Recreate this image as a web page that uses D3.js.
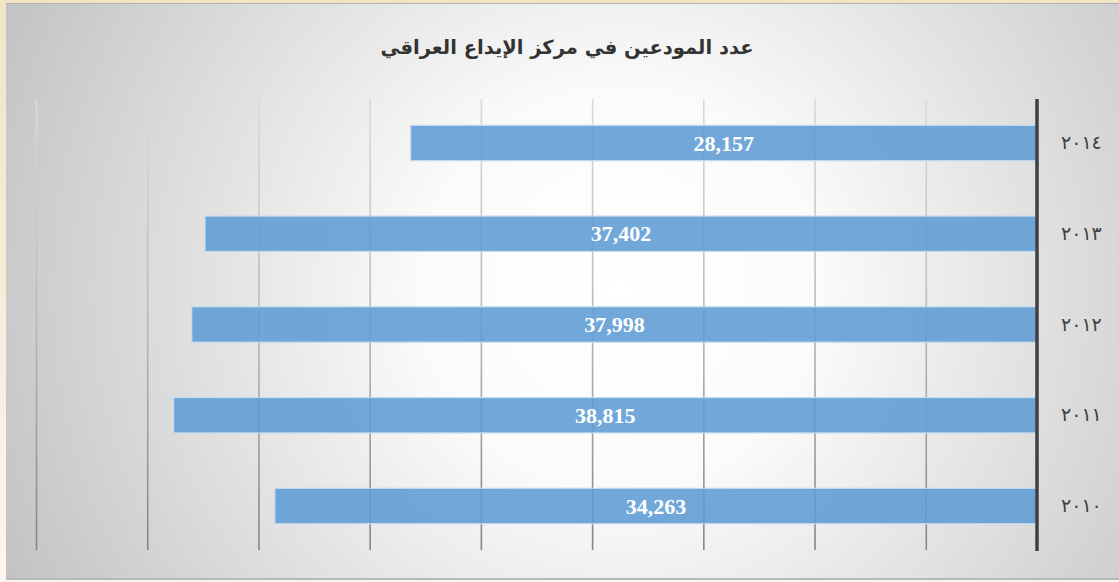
<!DOCTYPE html>
<html>
<head>
<meta charset="utf-8">
<script src="https://cdn.jsdelivr.net/npm/d3@7"></script>
<style>
  html, body { margin: 0; padding: 0; }
  body { width: 1119px; height: 582px; overflow: hidden; background: linear-gradient(180deg, #f3e4c6 0%, #f8eedf 60%, #fcf6ef 100%); }
</style>
</head>
<body>
<div id="chart"></div>
<script>
// data
let title = 'عدد المودعين في مركز الإيداع العراقي';
let years = ['٢٠١٤', '٢٠١٣', '٢٠١٢', '٢٠١١', '٢٠١٠'];
let depositors = [28157, 37402, 37998, 38815, 34263];
let tickValues = [5000, 10000, 15000, 20000, 25000, 30000, 35000, 40000, 45000];

let size = {width: 1119, height: 582};
let plot = {top: 99, bottom: 550, left: 36, right: 1037};

let svg = d3.select('#chart').append('svg')
  .attr('width', size.width)
  .attr('height', size.height);

let defs = svg.append('defs');

// background, light in the middle and grey towards the corners
let bg = defs.append('radialGradient')
  .attr('id', 'bg')
  .attr('gradientUnits', 'userSpaceOnUse')
  .attr('cx', 620).attr('cy', 290).attr('r', 700);
bg.append('stop').attr('offset', 0).attr('stop-color', '#ffffff');
bg.append('stop').attr('offset', 0.28).attr('stop-color', '#fbfbfb');
bg.append('stop').attr('offset', 1).attr('stop-color', '#c0c0c0');

// gridlines get darker towards the bottom (group is translated to plot.bottom)
let gridGrad = defs.append('linearGradient')
  .attr('id', 'gridGrad')
  .attr('gradientUnits', 'userSpaceOnUse')
  .attr('x1', 0).attr('y1', plot.top - plot.bottom).attr('x2', 0).attr('y2', 0);
gridGrad.append('stop').attr('offset', 0).attr('stop-color', '#dadada');
gridGrad.append('stop').attr('offset', 0.5).attr('stop-color', '#b8b8b8');
gridGrad.append('stop').attr('offset', 1).attr('stop-color', '#858585');

svg.append('rect')
  .attr('x', 6).attr('y', 3)
  .attr('width', size.width - 6).attr('height', 576)
  .attr('fill', 'url(#bg)');
svg.append('line')
  .attr('x1', 6).attr('x2', size.width).attr('y1', 3.5).attr('y2', 3.5)
  .attr('stroke', '#b0b0b0').attr('stroke-width', 1);
svg.append('line')
  .attr('x1', 6).attr('x2', size.width).attr('y1', 579).attr('y2', 579)
  .attr('stroke', '#b8b8b8').attr('stroke-width', 2);

// scales
let x = d3.scaleLinear()
  .domain([0, 45000])
  .range([plot.right, plot.left]);

let y = d3.scaleBand()
  .domain(years)
  .range([plot.top, plot.bottom])
  .paddingInner(0.61)
  .paddingOuter(0.29);

// gridlines
let grid = d3.axisBottom(x)
  .tickValues(tickValues)
  .tickSize(-(plot.bottom - plot.top))
  .tickFormat('');
let gGrid = svg.append('g')
  .attr('transform', 'translate(0,' + plot.bottom + ')')
  .call(grid);
gGrid.select('.domain').remove();
gGrid.selectAll('.tick line')
  .attr('stroke', 'url(#gridGrad)')
  .attr('stroke-width', 1.6);

// bars
svg.selectAll('rect.bar')
  .data(depositors)
  .enter()
  .append('rect')
  .attr('class', 'bar')
  .attr('x', d => x(d))
  .attr('y', (d, i) => y(years[i]))
  .attr('width', d => x(0) - x(d))
  .attr('height', y.bandwidth())
  .attr('fill', '#5f9cd4')
  .attr('fill-opacity', 0.88)
  .attr('stroke', '#c4dcf0')
  .attr('stroke-width', 1.2);

// value labels
let fmt = d3.format(',');
svg.selectAll('text.val')
  .data(depositors)
  .enter()
  .append('text')
  .attr('class', 'val')
  .attr('x', d => (x(d) + x(0)) / 2)
  .attr('y', (d, i) => y(years[i]) + y.bandwidth() / 2)
  .attr('dy', '0.35em')
  .attr('text-anchor', 'middle')
  .attr('font-family', 'Liberation Serif, serif')
  .attr('font-weight', 'bold')
  .attr('font-size', 22)
  .attr('fill', '#ffffff')
  .text(d => fmt(d));

// category axis on the right
let yAxis = d3.axisRight(y).tickSize(0).tickPadding(24);
let gy = svg.append('g')
  .attr('transform', 'translate(' + x(0) + ',0)')
  .call(yAxis);
gy.select('.domain').remove();
gy.selectAll('text')
  .attr('font-family', 'DejaVu Sans, sans-serif')
  .attr('font-size', 19)
  .attr('fill', '#404040');

svg.append('line')
  .attr('x1', x(0)).attr('x2', x(0))
  .attr('y1', plot.top).attr('y2', plot.bottom + 1)
  .attr('stroke', '#404040')
  .attr('stroke-width', 3.5);

// title
svg.append('text')
  .attr('x', 567)
  .attr('y', 54)
  .attr('text-anchor', 'middle')
  .attr('font-family', 'DejaVu Sans, sans-serif')
  .attr('font-weight', 'bold')
  .attr('font-size', 19.5)
  .attr('fill', '#333333')
  .text(title);
</script>
</body>
</html>
